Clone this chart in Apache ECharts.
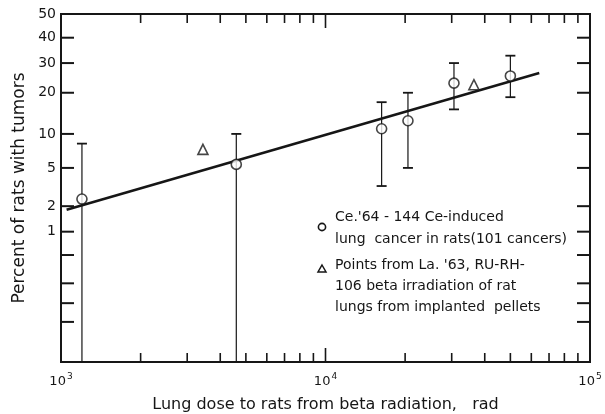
<!DOCTYPE html>
<html>
<head>
<meta charset="utf-8">
<script src="https://cdn.jsdelivr.net/npm/echarts@6/dist/echarts.min.js"></script>
<style>
  html, body { margin: 0; padding: 0; background: #fff; }
  #chart { width: 605px; height: 414px; }
</style>
</head>
<body>
<div id="chart"></div>
<script>
// Ce-144 induced lung cancer: dose (rad), percent with tumors, error bar limits (null = runs off scale)
const ceDose    = [1200, 4600, 16300, 20500, 30600, 50000];
const cePercent = [2.4, 5.4, 11, 12.7, 23, 25.4];
const ceUpper   = [8.3, 10, 17.3, 20, 30, 32.8];
const ceLower   = [null, null, 3.3, 5, 15.4, 18.7];

// Ru-Rh-106 pellet irradiation points
const ruDose    = [3440, 36400];
const ruPercent = [7.4, 22.5];

// fitted straight line on log-probability paper (end points)
const fitDose    = [1050, 64300];
const fitPercent = [1.82, 26.4];

// axes
const xMin = 1000, xMax = 100000;
const yMinPercent = 0.01, yMaxPercent = 50;
const yTickValues = [40, 30, 20, 10, 5, 2, 1, 0.5, 0.2, 0.1, 0.05];
const yLabelValues = [50, 40, 30, 20, 10, 5, 2, 1];
const yLabelTexts  = ['50', '40', '30', '20', '10', '5', '2', '1'];
const xMinorTicks = [2000, 3000, 4000, 5000, 6000, 7000, 8000, 9000,
                     20000, 30000, 40000, 50000, 60000, 70000, 80000, 90000];
const xMidTicks = [10000];

const legendLines = [
  "Ce.'64 - 144 Ce-induced",
  'lung  cancer in rats(101 cancers)',
  "Points from La. '63, RU-RH-",
  '106 beta irradiation of rat',
  'lungs from implanted  pellets'
];

// inverse of the standard normal CDF (Acklam), used as the probability-paper scale
function probit(percent) {
  const p = percent / 100;
  const a = [-3.969683028665376e+01, 2.209460984245205e+02, -2.759285104469687e+02,
             1.383577518672690e+02, -3.066479806614716e+01, 2.506628277459239e+00];
  const b = [-5.447609879822406e+01, 1.615858368580409e+02, -1.556989798598866e+02,
             6.680131188771972e+01, -1.328068155288572e+01];
  const c = [-7.784894002430293e-03, -3.223964580411365e-01, -2.400758277161838e+00,
             -2.549732539343734e+00, 4.374664141464968e+00, 2.938163982698783e+00];
  const d = [7.784695709041462e-03, 3.224671290700398e-01, 2.445134137142996e+00,
             3.754408661907416e+00];
  const pl = 0.02425;
  let q, r;
  if (p < pl) {
    q = Math.sqrt(-2 * Math.log(p));
    return (((((c[0]*q+c[1])*q+c[2])*q+c[3])*q+c[4])*q+c[5]) /
           ((((d[0]*q+d[1])*q+d[2])*q+d[3])*q+1);
  } else if (p <= 1 - pl) {
    q = p - 0.5; r = q * q;
    return (((((a[0]*r+a[1])*r+a[2])*r+a[3])*r+a[4])*r+a[5])*q /
           (((((b[0]*r+b[1])*r+b[2])*r+b[3])*r+b[4])*r+1);
  } else {
    q = Math.sqrt(-2 * Math.log(1 - p));
    return -(((((c[0]*q+c[1])*q+c[2])*q+c[3])*q+c[4])*q+c[5]) /
            ((((d[0]*q+d[1])*q+d[2])*q+d[3])*q+1);
  }
}

const zMin = probit(yMinPercent);
const zMax = probit(yMaxPercent);
const INK = '#161616';
const FONT = '"DejaVu Sans", "Liberation Sans", sans-serif';

const chart = echarts.init(document.getElementById('chart'), null, { renderer: 'canvas' });

const ceData = ceDose.map((d, i) => [d, probit(cePercent[i])]);
const ruData = ruDose.map((d, i) => [d, probit(ruPercent[i])]);
const fitData = fitDose.map((d, i) => [d, probit(fitPercent[i])]);
const errData = ceDose.map((d, i) => [d, probit(ceUpper[i]), ceLower[i] == null ? zMin : probit(ceLower[i]), ceLower[i] == null ? 0 : 1]);

const yTickData = yTickValues.map(v => [probit(v)]);
const yLabelData = yLabelValues.map((v, i) => [probit(v), i]);
const xTickData = xMinorTicks.map(v => [v, 0]).concat(xMidTicks.map(v => [v, 1]));

const option = {
  animation: false,
  backgroundColor: '#fff',
  grid: {
    left: 61, right: 15, top: 14, bottom: 52,
    outerBoundsMode: 'none',
    containLabel: false,
    show: true, borderColor: INK, borderWidth: 2, backgroundColor: 'transparent'
  },
  xAxis: {
    type: 'log', logBase: 10, min: xMin, max: xMax,
    axisLine: { show: false },
    axisTick: { show: false },
    splitLine: { show: false },
    axisLabel: {
      margin: 10,
      formatter: v => '{b|10}{s|' + Math.round(Math.log10(v)) + '}',
      rich: {
        b: { fontFamily: FONT, fontSize: 13, color: INK, lineHeight: 16, verticalAlign: 'bottom' },
        s: { fontFamily: FONT, fontSize: 9, color: INK, lineHeight: 16, verticalAlign: 'top', padding: [0, 0, 0, 1] }
      }
    },
    name: 'Lung dose to rats from beta radiation,   rad',
    nameLocation: 'middle',
    nameGap: 35,
    nameTextStyle: { fontFamily: FONT, fontSize: 16, color: INK }
  },
  yAxis: {
    type: 'value', min: zMin, max: zMax,
    axisLine: { show: false },
    axisTick: { show: false },
    axisLabel: { show: false },
    splitLine: { show: false },
    name: 'Percent of rats with tumors',
    nameLocation: 'middle',
    nameGap: 33,
    nameRotate: 90,
    nameTextStyle: { fontFamily: FONT, fontSize: 17, color: INK }
  },
  series: [
    {
      // probability-scale ticks on left and right frame
      type: 'custom', silent: true, clip: false,
      data: yTickData,
      renderItem: (params, api) => {
        const z = api.value(0);
        const l = api.coord([xMin, z]);
        const r = api.coord([xMax, z]);
        return {
          type: 'group',
          children: [
            { type: 'line', shape: { x1: l[0], y1: l[1], x2: l[0] + 13, y2: l[1] }, style: { stroke: INK, lineWidth: 2 } },
            { type: 'line', shape: { x1: r[0] - 13, y1: r[1], x2: r[0], y2: r[1] }, style: { stroke: INK, lineWidth: 2 } }
          ]
        };
      }
    },
    {
      // percent labels of the probability scale
      type: 'custom', silent: true, clip: false,
      data: yLabelData,
      renderItem: (params, api) => {
        const z = api.value(0);
        const l = api.coord([xMin, z]);
        return {
          type: 'text',
          style: {
            x: l[0] - 5, y: l[1], text: yLabelTexts[api.value(1)],
            align: 'right', verticalAlign: 'middle',
            font: '14px ' + FONT, fill: INK
          }
        };
      }
    },
    {
      // decade subdivision ticks on top and bottom frame
      type: 'custom', silent: true, clip: false,
      data: xTickData,
      renderItem: (params, api) => {
        const x = api.value(0);
        const len = api.value(1) ? 14 : 9;
        const b = api.coord([x, zMin]);
        const t = api.coord([x, zMax]);
        return {
          type: 'group',
          children: [
            { type: 'line', shape: { x1: b[0], y1: b[1], x2: b[0], y2: b[1] - len }, style: { stroke: INK, lineWidth: 1.6 } },
            { type: 'line', shape: { x1: t[0], y1: t[1], x2: t[0], y2: t[1] + len }, style: { stroke: INK, lineWidth: 1.6 } }
          ]
        };
      }
    },
    {
      // error bars
      type: 'custom', silent: true, clip: false, z: 3,
      data: errData,
      renderItem: (params, api) => {
        const x = api.value(0);
        const top = api.coord([x, api.value(1)]);
        const bot = api.coord([x, api.value(2)]);
        const kids = [
          { type: 'line', shape: { x1: top[0], y1: top[1], x2: bot[0], y2: bot[1] }, style: { stroke: INK, lineWidth: 1.2 } },
          { type: 'line', shape: { x1: top[0] - 5, y1: top[1], x2: top[0] + 5, y2: top[1] }, style: { stroke: INK, lineWidth: 1.8 } }
        ];
        if (api.value(3)) {
          kids.push({ type: 'line', shape: { x1: bot[0] - 5, y1: bot[1], x2: bot[0] + 5, y2: bot[1] }, style: { stroke: INK, lineWidth: 1.8 } });
        }
        return { type: 'group', children: kids };
      }
    },
    {
      type: 'line', data: fitData, showSymbol: false, z: 4,
      lineStyle: { color: INK, width: 2.6 }
    },
    {
      type: 'scatter', data: ceData, z: 5,
      symbol: 'circle', symbolSize: 10,
      itemStyle: { color: '#fff', borderColor: INK, borderWidth: 1.6 }
    },
    {
      type: 'scatter', data: ruData, z: 5,
      symbol: 'triangle', symbolSize: 10,
      itemStyle: { color: '#fff', borderColor: INK, borderWidth: 1.6 }
    }
  ],
  graphic: [
    { type: 'circle', shape: { cx: 322, cy: 227, r: 3.6 }, style: { fill: '#fff', stroke: INK, lineWidth: 1.6 } },
    { type: 'polygon', shape: { points: [[322, 265], [326, 272], [318, 272]] }, style: { fill: '#fff', stroke: INK, lineWidth: 1.5 } },
    { type: 'text', left: 335, top: 210, style: { text: legendLines[0], font: '14px ' + FONT, fill: INK } },
    { type: 'text', left: 335, top: 232, style: { text: legendLines[1], font: '14px ' + FONT, fill: INK } },
    { type: 'text', left: 335, top: 258, style: { text: legendLines[2], font: '14px ' + FONT, fill: INK } },
    { type: 'text', left: 335, top: 279, style: { text: legendLines[3], font: '14px ' + FONT, fill: INK } },
    { type: 'text', left: 335, top: 300, style: { text: legendLines[4], font: '14px ' + FONT, fill: INK } }
  ]
};

chart.setOption(option);
</script>
</body>
</html>
